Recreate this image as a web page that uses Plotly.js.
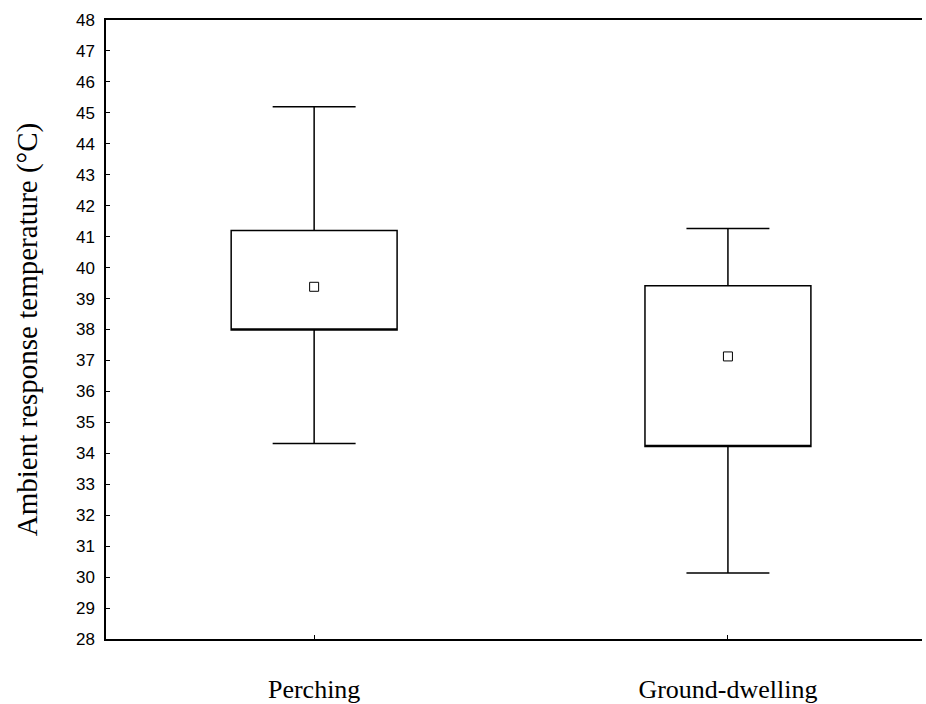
<!DOCTYPE html>
<html>
<head>
<meta charset="utf-8">
<script src="https://cdn.plot.ly/plotly-3.0.1.min.js"></script>
<style>html,body{margin:0;padding:0;background:#fff;}#chart{width:926px;height:704px;}</style>
</head>
<body>
<div id="chart"></div>
<script>
const categories = ["Perching", "Ground-dwelling"];
const upperWhisker = [45.20, 41.26];
const q3Values = [41.20, 39.41];
const q1Values = [37.98, 34.22];
const lowerWhisker = [34.32, 30.13];
const meanValues = [39.38, 37.13];
const yTicks = [28,29,30,31,32,33,34,35,36,37,38,39,40,41,42,43,44,45,46,47,48];

const boxTrace = {
  type: "box",
  x: categories,
  q1: q1Values,
  median: q1Values,
  q3: q3Values,
  lowerfence: lowerWhisker,
  upperfence: upperWhisker,
  width: 0.401,
  whiskerwidth: 0.5,
  fillcolor: "rgba(255,255,255,0)",
  line: {color: "#000", width: 1.5},
  boxpoints: false,
  hoverinfo: "skip",
  showlegend: false
};

const meanTrace = {
  type: "scatter",
  mode: "markers",
  x: categories,
  y: meanValues,
  marker: {symbol: "square", size: 9, color: "#fff", line: {color: "#000", width: 1}},
  hoverinfo: "skip",
  showlegend: false
};

const layout = {
  width: 926,
  height: 704,
  margin: {l: 106, r: 4, t: 20, b: 65},
  paper_bgcolor: "#fff",
  plot_bgcolor: "#fff",
  showlegend: false,
  xaxis: {
    type: "category",
    range: [-0.503, 1.469],
    showgrid: false,
    zeroline: false,
    showline: true,
    mirror: true,
    linecolor: "#000",
    linewidth: 2,
    ticks: "inside",
    ticklen: 4,
    tickwidth: 1,
    tickcolor: "#000",
    ticklabelstandoff: 26,
    tickfont: {family: "Liberation Serif, Times New Roman, serif", size: 26, color: "#000"}
  },
  yaxis: {
    range: [28, 48],
    tickvals: yTicks,
    ticktext: yTicks.map(String),
    showgrid: false,
    zeroline: false,
    showline: true,
    linecolor: "#000",
    linewidth: 1.6,
    ticks: "inside",
    ticklen: 4,
    tickwidth: 1,
    tickcolor: "#000",
    ticklabelstandoff: 6,
    tickfont: {family: "Liberation Sans, Arial, sans-serif", size: 17, color: "#000"},
    title: {
      text: "Ambient response temperature (°C)",
      font: {family: "Liberation Serif, Times New Roman, serif", size: 29, color: "#000"},
      standoff: 30
    }
  }
};

Plotly.newPlot("chart", [boxTrace, meanTrace], layout, {displayModeBar: false, staticPlot: true});
</script>
</body>
</html>
